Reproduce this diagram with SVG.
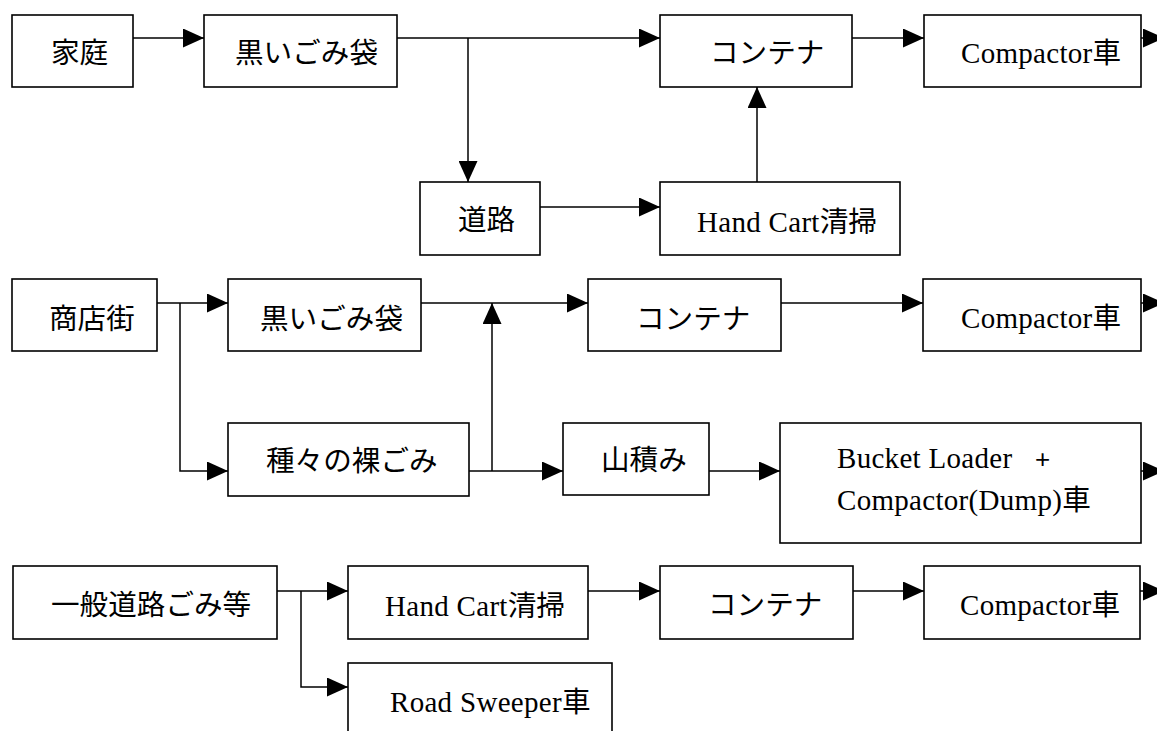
<svg xmlns="http://www.w3.org/2000/svg" width="1157" height="731" viewBox="0 0 1157 731">
<style>
rect.box{fill:#fff;stroke:#000;stroke-width:1.6}
.c{stroke:#000;stroke-width:1.5;fill:none}
.j{font-family:'Noto Sans CJK JP',sans-serif;font-size:28.6px;fill:#000}
.s{font-family:'Liberation Serif','Noto Sans CJK JP',serif;font-size:29px;letter-spacing:0.3px;fill:#000}
.sj{font-family:'Noto Sans CJK JP',sans-serif;font-size:28.6px;letter-spacing:0}
.p{font-family:'Liberation Sans',sans-serif;font-size:26px}
</style>
<defs>
<marker id="ah" markerUnits="userSpaceOnUse" markerWidth="21" markerHeight="19" refX="21" refY="9.5" orient="auto">
<path d="M0,0 L21,9.5 L0,19 Z" fill="#000"/>
</marker>
</defs>
<rect width="1157" height="731" fill="#fff"/>
<g id="connectors">
<line class="c" x1="133" y1="38" x2="204" y2="38" marker-end="url(#ah)"/>
<line class="c" x1="397" y1="38" x2="660" y2="38" marker-end="url(#ah)"/>
<line class="c" x1="468" y1="38" x2="468" y2="182" marker-end="url(#ah)"/>
<line class="c" x1="540" y1="207" x2="660" y2="207" marker-end="url(#ah)"/>
<line class="c" x1="757" y1="182" x2="757" y2="87" marker-end="url(#ah)"/>
<line class="c" x1="852" y1="38" x2="924" y2="38" marker-end="url(#ah)"/>
<line class="c" x1="1141" y1="38" x2="1164" y2="38" marker-end="url(#ah)"/>
<line class="c" x1="157" y1="303" x2="228" y2="303" marker-end="url(#ah)"/>
<path class="c" d="M180,303 V471 H228" marker-end="url(#ah)"/>
<line class="c" x1="421" y1="303" x2="588" y2="303" marker-end="url(#ah)"/>
<line class="c" x1="469" y1="471" x2="563" y2="471" marker-end="url(#ah)"/>
<line class="c" x1="492" y1="471" x2="492" y2="303" marker-end="url(#ah)"/>
<line class="c" x1="781" y1="303" x2="923" y2="303" marker-end="url(#ah)"/>
<line class="c" x1="1141" y1="303" x2="1164" y2="303" marker-end="url(#ah)"/>
<line class="c" x1="709" y1="471" x2="780" y2="471" marker-end="url(#ah)"/>
<line class="c" x1="1141" y1="471" x2="1164" y2="471" marker-end="url(#ah)"/>
<line class="c" x1="277" y1="591" x2="348" y2="591" marker-end="url(#ah)"/>
<path class="c" d="M301,591 V687 H348" marker-end="url(#ah)"/>
<line class="c" x1="588" y1="591" x2="660" y2="591" marker-end="url(#ah)"/>
<line class="c" x1="853" y1="591" x2="924" y2="591" marker-end="url(#ah)"/>
<line class="c" x1="1140" y1="591" x2="1164" y2="591" marker-end="url(#ah)"/>
</g>
<g id="katei"><rect class="box" x="12" y="15" width="121" height="72"/><text class="j" x="51" y="63">家庭</text></g>
<g id="kurogomi1"><rect class="box" x="204" y="15" width="193" height="72"/><text class="j" x="235" y="63">黒いごみ袋</text></g>
<g id="container1"><rect class="box" x="660" y="15" width="192" height="72"/><text class="j" x="710" y="63">コンテナ</text></g>
<g id="compactor1"><rect class="box" x="924" y="15" width="217" height="72"/><text class="s" x="961" y="63">Compactor<tspan class="sj">車</tspan></text></g>
<g id="douro"><rect class="box" x="420" y="182" width="120" height="73"/><text class="j" x="458" y="230">道路</text></g>
<g id="handcart1"><rect class="box" x="660" y="182" width="240" height="73"/><text class="s" x="697" y="232">Hand Cart<tspan class="sj">清掃</tspan></text></g>
<g id="shoutengai"><rect class="box" x="12" y="279" width="145" height="72"/><text class="j" x="49" y="329">商店街</text></g>
<g id="kurogomi2"><rect class="box" x="228" y="279" width="193" height="72"/><text class="j" x="260" y="329">黒いごみ袋</text></g>
<g id="container2"><rect class="box" x="588" y="279" width="193" height="72"/><text class="j" x="636" y="329">コンテナ</text></g>
<g id="compactor2"><rect class="box" x="923" y="279" width="218" height="72"/><text class="s" x="961" y="328">Compactor<tspan class="sj">車</tspan></text></g>
<g id="hadakagomi"><rect class="box" x="228" y="423" width="241" height="73"/><text class="j" x="266" y="471">種々の裸ごみ</text></g>
<g id="yamazumi"><rect class="box" x="563" y="423" width="146" height="72"/><text class="j" x="601" y="470">山積み</text></g>
<g id="bucketloader"><rect class="box" x="780" y="423" width="361" height="120"/><text class="s" x="837" y="468">Bucket Loader<tspan class="p" x="1035">+</tspan></text><text class="s" x="837" y="510">Compactor(Dump)<tspan class="sj">車</tspan></text></g>
<g id="ippandouro"><rect class="box" x="13" y="566" width="264" height="73"/><text class="j" x="51" y="615">一般道路ごみ等</text></g>
<g id="handcart2"><rect class="box" x="348" y="566" width="240" height="73"/><text class="s" x="385" y="616">Hand Cart<tspan class="sj">清掃</tspan></text></g>
<g id="container3"><rect class="box" x="660" y="566" width="193" height="73"/><text class="j" x="708" y="615">コンテナ</text></g>
<g id="compactor3"><rect class="box" x="924" y="566" width="216" height="73"/><text class="s" x="960" y="615">Compactor<tspan class="sj">車</tspan></text></g>
<g id="roadsweeper"><rect class="box" x="348" y="663" width="264" height="100"/><text class="s" x="390" y="712">Road Sweeper<tspan class="sj">車</tspan></text></g>
</svg>
